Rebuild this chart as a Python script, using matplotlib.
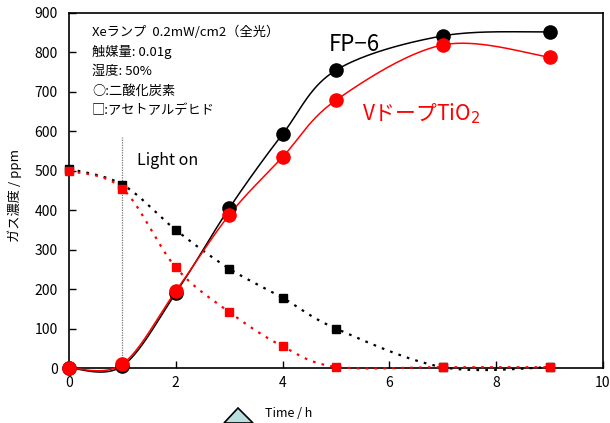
import numpy as np
import matplotlib
matplotlib.use("Agg")
import matplotlib.pyplot as plt
from matplotlib.patches import Polygon

plt.rcParams['font.family'] = ['Noto Sans CJK JP', 'DejaVu Sans']

time_h = [0, 1, 2, 3, 4, 5, 7, 9]
co2_fp6 = [0, 5, 190, 405, 593, 755, 842, 852]
co2_vtio2 = [0, 10, 195, 388, 535, 679, 819, 788]
ald_fp6 = [505, 465, 350, 252, 178, 100, 2, 2]
ald_vtio2 = [500, 455, 255, 142, 55, 3, 2, 2]

x_ticks = [0, 2, 4, 6, 8, 10]
y_ticks = [0, 100, 200, 300, 400, 500, 600, 700, 800, 900]

info_lines = ["Xeランプ  0.2mW/cm2（全光）", "触媒量: 0.01g", "湿度: 50%",
              "○:二酸化炭素", "□:アセトアルデヒド"]


def smooth(xs, ys, n=40):
    xs = np.asarray(xs, float)
    ys = np.asarray(ys, float)
    px, py = [], []
    m = len(xs)
    for i in range(m - 1):
        i0 = max(i - 1, 0)
        i3 = min(i + 2, m - 1)
        p0 = np.array([xs[i0], ys[i0]])
        p1 = np.array([xs[i], ys[i]])
        p2 = np.array([xs[i + 1], ys[i + 1]])
        p3 = np.array([xs[i3], ys[i3]])
        c1 = p1 + (p2 - p0) / 6.0
        c2 = p2 - (p3 - p1) / 6.0
        t = np.linspace(0, 1, n)[:, None]
        pts = ((1 - t) ** 3) * p1 + 3 * ((1 - t) ** 2) * t * c1 + 3 * (1 - t) * t ** 2 * c2 + t ** 3 * p2
        px.extend(pts[:, 0])
        py.extend(pts[:, 1])
    return np.array(px), np.array(py)


fig = plt.figure(figsize=(6.10, 4.23), dpi=100)
ax = fig.add_axes([69 / 610, 1 - 368 / 423, (603 - 69) / 610, (368 - 13) / 423])

# acetaldehyde (dotted)
for ys, col in [(ald_fp6, 'black'), (ald_vtio2, 'red')]:
    sx, sy = smooth(time_h, ys)
    ax.plot(sx, sy, color=col, lw=1.6, ls=(0, (1.2, 2.8)), zorder=3)
for ys, col in [(ald_fp6, 'black'), (ald_vtio2, 'red')]:
    ax.plot(time_h, ys, ls='none', marker='s', ms=6, color=col, zorder=4)

# CO2 (solid)
for ys, col in [(co2_fp6, 'black'), (co2_vtio2, 'red')]:
    sx, sy = smooth(time_h, ys)
    ax.plot(sx, sy, color=col, lw=1.1, zorder=5)
for ys, col in [(co2_fp6, 'black'), (co2_vtio2, 'red')]:
    ax.plot(time_h, ys, ls='none', marker='o', ms=9.5, color=col, zorder=6)

ax.plot([1, 1], [0, 585], color='#777777', lw=0.9, ls=(0, (1, 1)), zorder=2)

ax.set_xlim(0, 10)
ax.set_ylim(0, 900)
ax.set_xticks(x_ticks)
ax.set_yticks(y_ticks)
ax.tick_params(direction='in', length=5, width=1, labelsize=10, pad=6)
ax.tick_params(axis='y', pad=8)
for s in ax.spines.values():
    s.set_linewidth(1.2)
for ln in ax.lines:
    ln.set_clip_on(False)

ax.text(1.27, 525, "Light on", fontsize=11.5, va='center', ha='left')
ax.text(4.87, 820, "FP\u22126", fontsize=16, va='center', ha='left')
ax.text(5.48, 644, "VドープTiO$_2$", fontsize=15, va='center', ha='left', color='red')

ys_px = [32, 52, 71, 91, 110]
for t, yp in zip(info_lines, ys_px):
    fig.text(92 / 610, 1 - yp / 423, t, fontsize=9.5, va='center', ha='left')

fig.text(289 / 610, 1 - 413 / 423, "Time / h", fontsize=9, ha='center', va='center')
fig.text(15 / 610, 1 - 195 / 423, "ガス濃度 / ppm", fontsize=9.5, ha='center', va='center', rotation=90)

tri = Polygon([[224 / 610, 0], [238 / 610, 1 - 408 / 423], [253 / 610, 0]], closed=True,
              transform=fig.transFigure, facecolor='#b9dfe0', edgecolor='black', lw=1.2, clip_on=False)
fig.patches.append(tri)

fig.savefig("out.png", dpi=100)
